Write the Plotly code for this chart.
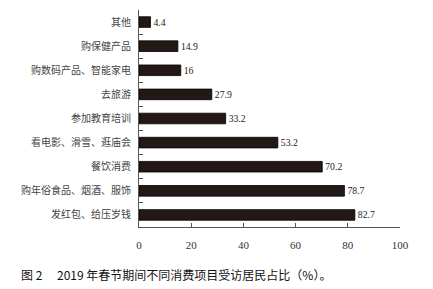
import plotly.graph_objects as go

categories = ["其他", "购保健产品", "购数码产品、智能家电", "去旅游", "参加教育培训",
              "看电影、滑雪、逛庙会", "餐饮消费", "购年俗食品、烟酒、服饰", "发红包、给压岁钱"]
values = [4.4, 14.9, 16, 27.9, 33.2, 53.2, 70.2, 78.7, 82.7]
value_labels = ["4.4", "14.9", "16", "27.9", "33.2", "53.2", "70.2", "78.7", "82.7"]
x_ticks = [0, 20, 40, 60, 80, 100]
caption = "图 2　 2019 年春节期间不同消费项目受访居民占比（%）。"

W, H = 433, 289
L, R, T, B = 139, 33, 10, 62

fig = go.Figure()
fig.add_trace(go.Bar(
    x=values, y=categories, orientation="h",
    marker=dict(color="#231815", line=dict(color="#000000", width=0.8)),
    width=0.44,
    text=value_labels, textposition="outside", cliponaxis=False,
    textfont=dict(family="Liberation Serif", size=11, color="#231815"),
))

fig.update_layout(
    width=W, height=H,
    margin=dict(l=L, r=R, t=T, b=B),
    paper_bgcolor="white", plot_bgcolor="white",
    showlegend=False,
    font=dict(family="Noto Sans CJK SC", size=11, color="#333333"),
    annotations=[dict(
        text=caption, showarrow=False,
        xref="paper", yref="paper",
        x=(19 - L) / (W - L - R), y=-(274 - (H - B)) / (H - T - B),
        xanchor="left", yanchor="middle",
        font=dict(family="Noto Sans CJK SC", size=12, color="#111111"),
    )],
)
fig.update_xaxes(
    range=[0, 100], tickvals=x_ticks, ticks="inside", ticklen=4,
    tickcolor="#555555", showline=True, linecolor="#555555", linewidth=1,
    showgrid=False, zeroline=False, mirror=False,
    tickfont=dict(family="Liberation Serif", size=11, color="#333333"),
    ticklabelstandoff=8,
)
fig.update_yaxes(
    categoryorder="array", categoryarray=categories, autorange="reversed",
    range=[8.5, -0.5],
    ticks="inside", tickson="boundaries", ticklen=4, tickcolor="#555555",
    showline=True, linecolor="#555555", linewidth=1, showgrid=False,
    tickfont=dict(family="Noto Sans CJK SC", size=10, color="#444444"),
    ticklabelstandoff=5,
)

fig.write_html("out.html")
